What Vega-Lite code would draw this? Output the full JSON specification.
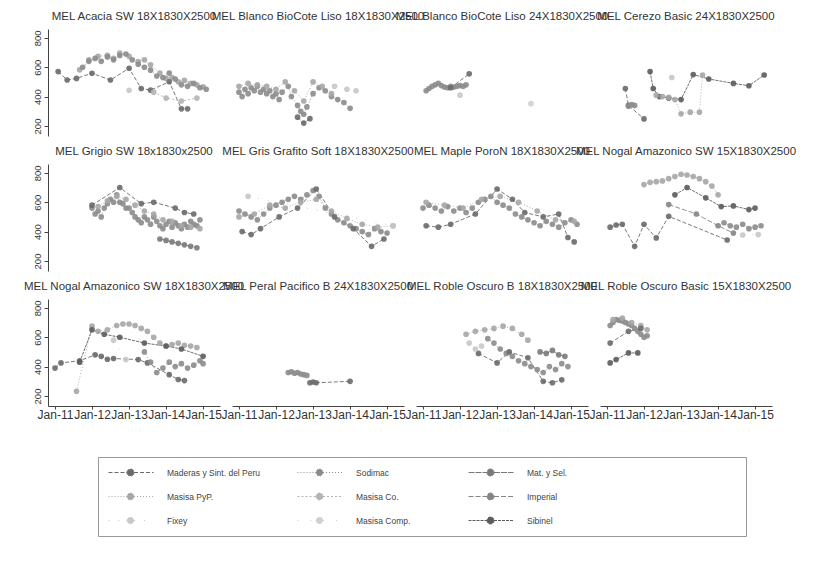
{
"$schema": "https://vega.github.io/schema/vega-lite/v6.json",
"padding": {"left": 23, "top": 10, "right": 5, "bottom": 5},
"background": "white",
"bounds": "flush",
"config": {"view": {"stroke": null}, "font": "Liberation Sans", "axis": {"grid": false, "domainColor": "#444", "tickColor": "#444", "labelColor": "#333", "labelFont": "Liberation Sans"}},
"data": {"values": [
{"p":1,"s":"Masisa PyP.","d":"2011-09","v":582},{"p":1,"s":"Masisa PyP.","d":"2011-12","v":651},{"p":1,"s":"Masisa PyP.","d":"2012-03","v":674},{"p":1,"s":"Masisa PyP.","d":"2012-06","v":681},{"p":1,"s":"Masisa PyP.","d":"2012-08","v":660},{"p":1,"s":"Masisa PyP.","d":"2012-10","v":697},{"p":1,"s":"Masisa PyP.","d":"2013-01","v":674},{"p":1,"s":"Masisa PyP.","d":"2013-04","v":639},{"p":1,"s":"Masisa PyP.","d":"2013-06","v":650},{"p":1,"s":"Masisa PyP.","d":"2013-08","v":616},{"p":1,"s":"Masisa PyP.","d":"2013-11","v":560},{"p":1,"s":"Masisa PyP.","d":"2014-01","v":524},{"p":1,"s":"Masisa PyP.","d":"2014-03","v":530},{"p":1,"s":"Masisa PyP.","d":"2014-05","v":501},{"p":1,"s":"Masisa PyP.","d":"2014-07","v":510},{"p":1,"s":"Masisa PyP.","d":"2014-09","v":490},{"p":1,"s":"Masisa PyP.","d":"2014-11","v":480},{"p":1,"s":"Masisa PyP.","d":"2015-01","v":467},
{"p":1,"s":"Maderas y Sint. del Peru","d":"2011-02","v":570},{"p":1,"s":"Maderas y Sint. del Peru","d":"2011-05","v":513},{"p":1,"s":"Maderas y Sint. del Peru","d":"2011-08","v":524},{"p":1,"s":"Maderas y Sint. del Peru","d":"2012-01","v":559},{"p":1,"s":"Maderas y Sint. del Peru","d":"2012-07","v":513},{"p":1,"s":"Maderas y Sint. del Peru","d":"2013-01","v":593},{"p":1,"s":"Maderas y Sint. del Peru","d":"2013-05","v":455},{"p":1,"s":"Maderas y Sint. del Peru","d":"2013-08","v":444},{"p":1,"s":"Maderas y Sint. del Peru","d":"2014-02","v":501},{"p":1,"s":"Maderas y Sint. del Peru","d":"2014-06","v":317},{"p":1,"s":"Maderas y Sint. del Peru","d":"2014-08","v":317},
{"p":1,"s":"Sodimac","d":"2011-10","v":600},{"p":1,"s":"Sodimac","d":"2011-12","v":640},{"p":1,"s":"Sodimac","d":"2012-02","v":660},{"p":1,"s":"Sodimac","d":"2012-04","v":640},{"p":1,"s":"Sodimac","d":"2012-06","v":670},{"p":1,"s":"Sodimac","d":"2012-08","v":650},{"p":1,"s":"Sodimac","d":"2012-10","v":680},{"p":1,"s":"Sodimac","d":"2012-12","v":690},{"p":1,"s":"Sodimac","d":"2013-02","v":650},{"p":1,"s":"Sodimac","d":"2013-04","v":620},{"p":1,"s":"Sodimac","d":"2013-06","v":600},{"p":1,"s":"Sodimac","d":"2013-08","v":580},{"p":1,"s":"Sodimac","d":"2013-10","v":540},{"p":1,"s":"Sodimac","d":"2013-12","v":530},{"p":1,"s":"Sodimac","d":"2014-02","v":560},{"p":1,"s":"Sodimac","d":"2014-04","v":520},{"p":1,"s":"Sodimac","d":"2014-06","v":480},{"p":1,"s":"Sodimac","d":"2014-08","v":470},{"p":1,"s":"Sodimac","d":"2014-10","v":490},{"p":1,"s":"Sodimac","d":"2014-12","v":460},{"p":1,"s":"Sodimac","d":"2015-02","v":450},
{"p":1,"s":"Masisa Co.","d":"2013-09","v":430},{"p":1,"s":"Masisa Co.","d":"2014-01","v":390},{"p":1,"s":"Masisa Co.","d":"2014-06","v":370},{"p":1,"s":"Masisa Co.","d":"2014-11","v":390},
{"p":1,"s":"Fixey","d":"2013-01","v":443},
{"p":2,"s":"Sodimac","d":"2011-01","v":430},{"p":2,"s":"Sodimac","d":"2011-02","v":400},{"p":2,"s":"Sodimac","d":"2011-03","v":450},{"p":2,"s":"Sodimac","d":"2011-04","v":420},{"p":2,"s":"Sodimac","d":"2011-05","v":460},{"p":2,"s":"Sodimac","d":"2011-06","v":440},{"p":2,"s":"Sodimac","d":"2011-07","v":470},{"p":2,"s":"Sodimac","d":"2011-08","v":430},{"p":2,"s":"Sodimac","d":"2011-09","v":450},{"p":2,"s":"Sodimac","d":"2011-10","v":420},{"p":2,"s":"Sodimac","d":"2011-11","v":440},{"p":2,"s":"Sodimac","d":"2011-12","v":400},{"p":2,"s":"Sodimac","d":"2012-01","v":420},{"p":2,"s":"Sodimac","d":"2012-02","v":380},{"p":2,"s":"Sodimac","d":"2012-03","v":430},{"p":2,"s":"Sodimac","d":"2012-05","v":470},{"p":2,"s":"Sodimac","d":"2012-06","v":400},{"p":2,"s":"Sodimac","d":"2012-08","v":340},{"p":2,"s":"Sodimac","d":"2012-09","v":300},{"p":2,"s":"Sodimac","d":"2012-10","v":280},{"p":2,"s":"Sodimac","d":"2012-11","v":330},{"p":2,"s":"Sodimac","d":"2013-01","v":420},{"p":2,"s":"Sodimac","d":"2013-03","v":460},{"p":2,"s":"Sodimac","d":"2013-05","v":440},{"p":2,"s":"Sodimac","d":"2013-07","v":400},{"p":2,"s":"Sodimac","d":"2013-09","v":380},{"p":2,"s":"Sodimac","d":"2013-11","v":360},{"p":2,"s":"Sodimac","d":"2014-01","v":320},
{"p":2,"s":"Masisa PyP.","d":"2011-01","v":470},{"p":2,"s":"Masisa PyP.","d":"2011-04","v":490},{"p":2,"s":"Masisa PyP.","d":"2011-07","v":480},{"p":2,"s":"Masisa PyP.","d":"2011-10","v":470},{"p":2,"s":"Masisa PyP.","d":"2012-01","v":450},{"p":2,"s":"Masisa PyP.","d":"2012-04","v":500},{"p":2,"s":"Masisa PyP.","d":"2012-07","v":440},{"p":2,"s":"Masisa PyP.","d":"2012-10","v":370},{"p":2,"s":"Masisa PyP.","d":"2013-01","v":500},{"p":2,"s":"Masisa PyP.","d":"2013-04","v":470},{"p":2,"s":"Masisa PyP.","d":"2013-07","v":420},
{"p":2,"s":"Maderas y Sint. del Peru","d":"2012-08","v":260},{"p":2,"s":"Maderas y Sint. del Peru","d":"2012-10","v":220},{"p":2,"s":"Maderas y Sint. del Peru","d":"2012-12","v":250},
{"p":2,"s":"Fixey","d":"2013-08","v":470},{"p":2,"s":"Fixey","d":"2013-12","v":450},{"p":2,"s":"Fixey","d":"2014-03","v":440},
{"p":3,"s":"Sodimac","d":"2011-02","v":440},{"p":3,"s":"Sodimac","d":"2011-03","v":455},{"p":3,"s":"Sodimac","d":"2011-04","v":470},{"p":3,"s":"Sodimac","d":"2011-05","v":480},{"p":3,"s":"Sodimac","d":"2011-06","v":490},{"p":3,"s":"Sodimac","d":"2011-07","v":475},{"p":3,"s":"Sodimac","d":"2011-08","v":465},{"p":3,"s":"Sodimac","d":"2011-09","v":460},{"p":3,"s":"Sodimac","d":"2011-10","v":470},{"p":3,"s":"Sodimac","d":"2011-11","v":465},{"p":3,"s":"Sodimac","d":"2011-12","v":470},{"p":3,"s":"Sodimac","d":"2012-01","v":475},{"p":3,"s":"Sodimac","d":"2012-02","v":470},{"p":3,"s":"Sodimac","d":"2012-03","v":480},
{"p":3,"s":"Maderas y Sint. del Peru","d":"2011-10","v":460},{"p":3,"s":"Maderas y Sint. del Peru","d":"2012-04","v":555},
{"p":3,"s":"Fixey","d":"2012-01","v":410},{"p":3,"s":"Masisa Comp.","d":"2013-12","v":352},
{"p":4,"s":"Sibinel","d":"2012-03","v":570},{"p":4,"s":"Sibinel","d":"2012-04","v":455},{"p":4,"s":"Sibinel","d":"2012-06","v":400},{"p":4,"s":"Sibinel","d":"2012-09","v":390},{"p":4,"s":"Sibinel","d":"2013-01","v":380},{"p":4,"s":"Sibinel","d":"2013-05","v":550},{"p":4,"s":"Sibinel","d":"2013-10","v":520},{"p":4,"s":"Sibinel","d":"2014-06","v":490},{"p":4,"s":"Sibinel","d":"2014-11","v":474},{"p":4,"s":"Sibinel","d":"2015-04","v":547},
{"p":4,"s":"Maderas y Sint. del Peru","d":"2011-07","v":455},{"p":4,"s":"Maderas y Sint. del Peru","d":"2011-08","v":340},{"p":4,"s":"Maderas y Sint. del Peru","d":"2012-01","v":248},
{"p":4,"s":"Sodimac","d":"2011-08","v":335},{"p":4,"s":"Sodimac","d":"2011-09","v":345},{"p":4,"s":"Sodimac","d":"2011-10","v":340},
{"p":4,"s":"Masisa PyP.","d":"2012-05","v":410},{"p":4,"s":"Masisa PyP.","d":"2012-07","v":400},{"p":4,"s":"Masisa PyP.","d":"2012-09","v":395},{"p":4,"s":"Masisa PyP.","d":"2012-11","v":380},{"p":4,"s":"Masisa PyP.","d":"2013-01","v":283},{"p":4,"s":"Masisa PyP.","d":"2013-04","v":294},{"p":4,"s":"Masisa PyP.","d":"2013-07","v":294},{"p":4,"s":"Masisa PyP.","d":"2013-08","v":547},
{"p":4,"s":"Fixey","d":"2012-10","v":530},
{"p":5,"s":"Sodimac","d":"2012-01","v":560},{"p":5,"s":"Sodimac","d":"2012-02","v":520},{"p":5,"s":"Sodimac","d":"2012-03","v":540},{"p":5,"s":"Sodimac","d":"2012-04","v":500},{"p":5,"s":"Sodimac","d":"2012-05","v":560},{"p":5,"s":"Sodimac","d":"2012-06","v":590},{"p":5,"s":"Sodimac","d":"2012-07","v":620},{"p":5,"s":"Sodimac","d":"2012-08","v":600},{"p":5,"s":"Sodimac","d":"2012-09","v":650},{"p":5,"s":"Sodimac","d":"2012-10","v":600},{"p":5,"s":"Sodimac","d":"2012-11","v":590},{"p":5,"s":"Sodimac","d":"2012-12","v":560},{"p":5,"s":"Sodimac","d":"2013-01","v":560},{"p":5,"s":"Sodimac","d":"2013-02","v":530},{"p":5,"s":"Sodimac","d":"2013-03","v":500},{"p":5,"s":"Sodimac","d":"2013-04","v":480},{"p":5,"s":"Sodimac","d":"2013-05","v":460},{"p":5,"s":"Sodimac","d":"2013-06","v":500},{"p":5,"s":"Sodimac","d":"2013-07","v":480},{"p":5,"s":"Sodimac","d":"2013-08","v":450},{"p":5,"s":"Sodimac","d":"2013-09","v":500},{"p":5,"s":"Sodimac","d":"2013-10","v":470},{"p":5,"s":"Sodimac","d":"2013-11","v":440},{"p":5,"s":"Sodimac","d":"2013-12","v":420},{"p":5,"s":"Sodimac","d":"2014-01","v":450},{"p":5,"s":"Sodimac","d":"2014-02","v":470},{"p":5,"s":"Sodimac","d":"2014-03","v":430},{"p":5,"s":"Sodimac","d":"2014-04","v":460},{"p":5,"s":"Sodimac","d":"2014-05","v":440},{"p":5,"s":"Sodimac","d":"2014-06","v":420},{"p":5,"s":"Sodimac","d":"2014-07","v":450},{"p":5,"s":"Sodimac","d":"2014-08","v":430},{"p":5,"s":"Sodimac","d":"2014-09","v":470},{"p":5,"s":"Sodimac","d":"2014-10","v":450},{"p":5,"s":"Sodimac","d":"2014-11","v":440},{"p":5,"s":"Sodimac","d":"2014-12","v":480},
{"p":5,"s":"Masisa PyP.","d":"2012-03","v":570},{"p":5,"s":"Masisa PyP.","d":"2012-06","v":610},{"p":5,"s":"Masisa PyP.","d":"2012-09","v":640},{"p":5,"s":"Masisa PyP.","d":"2012-12","v":620},{"p":5,"s":"Masisa PyP.","d":"2013-03","v":580},{"p":5,"s":"Masisa PyP.","d":"2013-06","v":540},{"p":5,"s":"Masisa PyP.","d":"2013-09","v":520},{"p":5,"s":"Masisa PyP.","d":"2013-12","v":480},{"p":5,"s":"Masisa PyP.","d":"2014-03","v":470},{"p":5,"s":"Masisa PyP.","d":"2014-06","v":440},{"p":5,"s":"Masisa PyP.","d":"2014-09","v":430},{"p":5,"s":"Masisa PyP.","d":"2014-12","v":420},
{"p":5,"s":"Maderas y Sint. del Peru","d":"2012-01","v":580},{"p":5,"s":"Maderas y Sint. del Peru","d":"2012-10","v":700},{"p":5,"s":"Maderas y Sint. del Peru","d":"2013-05","v":590},{"p":5,"s":"Maderas y Sint. del Peru","d":"2013-09","v":600},{"p":5,"s":"Maderas y Sint. del Peru","d":"2014-04","v":560},{"p":5,"s":"Maderas y Sint. del Peru","d":"2014-07","v":530},{"p":5,"s":"Maderas y Sint. del Peru","d":"2014-10","v":520},
{"p":5,"s":"Mat. y Sel.","d":"2013-11","v":350},{"p":5,"s":"Mat. y Sel.","d":"2014-01","v":340},{"p":5,"s":"Mat. y Sel.","d":"2014-03","v":330},{"p":5,"s":"Mat. y Sel.","d":"2014-05","v":320},{"p":5,"s":"Mat. y Sel.","d":"2014-07","v":310},{"p":5,"s":"Mat. y Sel.","d":"2014-09","v":300},{"p":5,"s":"Mat. y Sel.","d":"2014-11","v":290},
{"p":6,"s":"Sodimac","d":"2011-01","v":540},{"p":6,"s":"Sodimac","d":"2011-03","v":520},{"p":6,"s":"Sodimac","d":"2011-05","v":500},{"p":6,"s":"Sodimac","d":"2011-07","v":480},{"p":6,"s":"Sodimac","d":"2011-09","v":520},{"p":6,"s":"Sodimac","d":"2011-11","v":560},{"p":6,"s":"Sodimac","d":"2012-01","v":580},{"p":6,"s":"Sodimac","d":"2012-03","v":600},{"p":6,"s":"Sodimac","d":"2012-05","v":620},{"p":6,"s":"Sodimac","d":"2012-07","v":640},{"p":6,"s":"Sodimac","d":"2012-09","v":620},{"p":6,"s":"Sodimac","d":"2012-11","v":650},{"p":6,"s":"Sodimac","d":"2013-01","v":680},{"p":6,"s":"Sodimac","d":"2013-03","v":640},{"p":6,"s":"Sodimac","d":"2013-05","v":560},{"p":6,"s":"Sodimac","d":"2013-07","v":520},{"p":6,"s":"Sodimac","d":"2013-09","v":480},{"p":6,"s":"Sodimac","d":"2013-11","v":460},{"p":6,"s":"Sodimac","d":"2014-01","v":440},{"p":6,"s":"Sodimac","d":"2014-03","v":420},{"p":6,"s":"Sodimac","d":"2014-05","v":400},{"p":6,"s":"Sodimac","d":"2014-07","v":380},{"p":6,"s":"Sodimac","d":"2014-09","v":420},{"p":6,"s":"Sodimac","d":"2014-11","v":400},{"p":6,"s":"Sodimac","d":"2015-01","v":390},
{"p":6,"s":"Masisa PyP.","d":"2011-01","v":500},{"p":6,"s":"Masisa PyP.","d":"2011-06","v":520},{"p":6,"s":"Masisa PyP.","d":"2011-11","v":580},{"p":6,"s":"Masisa PyP.","d":"2012-04","v":560},{"p":6,"s":"Masisa PyP.","d":"2012-09","v":600},{"p":6,"s":"Masisa PyP.","d":"2013-02","v":620},{"p":6,"s":"Masisa PyP.","d":"2013-07","v":540},{"p":6,"s":"Masisa PyP.","d":"2013-12","v":490},{"p":6,"s":"Masisa PyP.","d":"2014-05","v":450},{"p":6,"s":"Masisa PyP.","d":"2014-10","v":430},{"p":6,"s":"Masisa PyP.","d":"2015-03","v":440},
{"p":6,"s":"Maderas y Sint. del Peru","d":"2011-02","v":400},{"p":6,"s":"Maderas y Sint. del Peru","d":"2011-05","v":380},{"p":6,"s":"Maderas y Sint. del Peru","d":"2011-08","v":420},{"p":6,"s":"Maderas y Sint. del Peru","d":"2012-02","v":500},{"p":6,"s":"Maderas y Sint. del Peru","d":"2012-08","v":560},{"p":6,"s":"Maderas y Sint. del Peru","d":"2013-02","v":690},{"p":6,"s":"Maderas y Sint. del Peru","d":"2013-08","v":500},{"p":6,"s":"Maderas y Sint. del Peru","d":"2014-02","v":420},{"p":6,"s":"Maderas y Sint. del Peru","d":"2014-08","v":300},{"p":6,"s":"Maderas y Sint. del Peru","d":"2014-12","v":350},
{"p":6,"s":"Fixey","d":"2011-04","v":640},{"p":6,"s":"Fixey","d":"2015-03","v":440},
{"p":7,"s":"Sodimac","d":"2011-01","v":560},{"p":7,"s":"Sodimac","d":"2011-03","v":580},{"p":7,"s":"Sodimac","d":"2011-05","v":560},{"p":7,"s":"Sodimac","d":"2011-07","v":540},{"p":7,"s":"Sodimac","d":"2011-09","v":570},{"p":7,"s":"Sodimac","d":"2011-11","v":540},{"p":7,"s":"Sodimac","d":"2012-01","v":560},{"p":7,"s":"Sodimac","d":"2012-03","v":530},{"p":7,"s":"Sodimac","d":"2012-05","v":560},{"p":7,"s":"Sodimac","d":"2012-07","v":600},{"p":7,"s":"Sodimac","d":"2012-09","v":620},{"p":7,"s":"Sodimac","d":"2012-11","v":640},{"p":7,"s":"Sodimac","d":"2013-01","v":600},{"p":7,"s":"Sodimac","d":"2013-03","v":580},{"p":7,"s":"Sodimac","d":"2013-05","v":560},{"p":7,"s":"Sodimac","d":"2013-07","v":520},{"p":7,"s":"Sodimac","d":"2013-09","v":500},{"p":7,"s":"Sodimac","d":"2013-11","v":480},{"p":7,"s":"Sodimac","d":"2014-01","v":460},{"p":7,"s":"Sodimac","d":"2014-03","v":440},{"p":7,"s":"Sodimac","d":"2014-05","v":470},{"p":7,"s":"Sodimac","d":"2014-07","v":450},{"p":7,"s":"Sodimac","d":"2014-09","v":430},{"p":7,"s":"Sodimac","d":"2014-11","v":460},{"p":7,"s":"Sodimac","d":"2015-01","v":480},{"p":7,"s":"Sodimac","d":"2015-03","v":450},
{"p":7,"s":"Masisa PyP.","d":"2011-02","v":600},{"p":7,"s":"Masisa PyP.","d":"2011-08","v":580},{"p":7,"s":"Masisa PyP.","d":"2012-02","v":560},{"p":7,"s":"Masisa PyP.","d":"2012-08","v":620},{"p":7,"s":"Masisa PyP.","d":"2013-02","v":640},{"p":7,"s":"Masisa PyP.","d":"2013-08","v":600},{"p":7,"s":"Masisa PyP.","d":"2014-02","v":540},{"p":7,"s":"Masisa PyP.","d":"2014-08","v":480},{"p":7,"s":"Masisa PyP.","d":"2015-02","v":470},
{"p":7,"s":"Maderas y Sint. del Peru","d":"2011-02","v":440},{"p":7,"s":"Maderas y Sint. del Peru","d":"2011-06","v":430},{"p":7,"s":"Maderas y Sint. del Peru","d":"2011-10","v":450},{"p":7,"s":"Maderas y Sint. del Peru","d":"2012-06","v":520},{"p":7,"s":"Maderas y Sint. del Peru","d":"2013-01","v":690},{"p":7,"s":"Maderas y Sint. del Peru","d":"2013-06","v":620},{"p":7,"s":"Maderas y Sint. del Peru","d":"2013-10","v":530},{"p":7,"s":"Maderas y Sint. del Peru","d":"2014-04","v":500},{"p":7,"s":"Maderas y Sint. del Peru","d":"2014-09","v":520},{"p":7,"s":"Maderas y Sint. del Peru","d":"2014-12","v":360},{"p":7,"s":"Maderas y Sint. del Peru","d":"2015-02","v":330},
{"p":8,"s":"Masisa PyP.","d":"2012-01","v":720},{"p":8,"s":"Masisa PyP.","d":"2012-03","v":735},{"p":8,"s":"Masisa PyP.","d":"2012-05","v":740},{"p":8,"s":"Masisa PyP.","d":"2012-07","v":745},{"p":8,"s":"Masisa PyP.","d":"2012-09","v":760},{"p":8,"s":"Masisa PyP.","d":"2012-11","v":775},{"p":8,"s":"Masisa PyP.","d":"2013-01","v":790},{"p":8,"s":"Masisa PyP.","d":"2013-03","v":785},{"p":8,"s":"Masisa PyP.","d":"2013-05","v":775},{"p":8,"s":"Masisa PyP.","d":"2013-07","v":760},{"p":8,"s":"Masisa PyP.","d":"2013-09","v":740},{"p":8,"s":"Masisa PyP.","d":"2013-11","v":710},{"p":8,"s":"Masisa PyP.","d":"2014-01","v":650},
{"p":8,"s":"Sibinel","d":"2012-11","v":650},{"p":8,"s":"Sibinel","d":"2013-03","v":700},{"p":8,"s":"Sibinel","d":"2013-09","v":630},{"p":8,"s":"Sibinel","d":"2014-02","v":570},{"p":8,"s":"Sibinel","d":"2014-06","v":575},{"p":8,"s":"Sibinel","d":"2014-11","v":550},{"p":8,"s":"Sibinel","d":"2015-01","v":560},
{"p":8,"s":"Sodimac","d":"2014-03","v":460},{"p":8,"s":"Sodimac","d":"2014-05","v":440},{"p":8,"s":"Sodimac","d":"2014-07","v":430},{"p":8,"s":"Sodimac","d":"2014-09","v":450},{"p":8,"s":"Sodimac","d":"2014-11","v":420},{"p":8,"s":"Sodimac","d":"2015-01","v":430},{"p":8,"s":"Sodimac","d":"2015-03","v":440},
{"p":8,"s":"Maderas y Sint. del Peru","d":"2011-02","v":430},{"p":8,"s":"Maderas y Sint. del Peru","d":"2011-04","v":445},{"p":8,"s":"Maderas y Sint. del Peru","d":"2011-06","v":450},{"p":8,"s":"Maderas y Sint. del Peru","d":"2011-10","v":300},{"p":8,"s":"Maderas y Sint. del Peru","d":"2012-01","v":450},{"p":8,"s":"Maderas y Sint. del Peru","d":"2012-05","v":357},{"p":8,"s":"Maderas y Sint. del Peru","d":"2012-09","v":504},{"p":8,"s":"Maderas y Sint. del Peru","d":"2014-04","v":343},
{"p":8,"s":"Imperial","d":"2012-09","v":584},{"p":8,"s":"Imperial","d":"2013-06","v":520},{"p":8,"s":"Imperial","d":"2014-01","v":440},{"p":8,"s":"Imperial","d":"2014-06","v":390},
{"p":8,"s":"Fixey","d":"2014-09","v":377},{"p":8,"s":"Fixey","d":"2015-02","v":380},
{"p":9,"s":"Maderas y Sint. del Peru","d":"2011-01","v":390},{"p":9,"s":"Maderas y Sint. del Peru","d":"2011-03","v":425},{"p":9,"s":"Maderas y Sint. del Peru","d":"2011-09","v":440},{"p":9,"s":"Maderas y Sint. del Peru","d":"2012-02","v":480},{"p":9,"s":"Maderas y Sint. del Peru","d":"2012-04","v":470},{"p":9,"s":"Maderas y Sint. del Peru","d":"2012-06","v":450},{"p":9,"s":"Maderas y Sint. del Peru","d":"2012-08","v":455},{"p":9,"s":"Maderas y Sint. del Peru","d":"2013-04","v":448},{"p":9,"s":"Maderas y Sint. del Peru","d":"2013-07","v":425},{"p":9,"s":"Maderas y Sint. del Peru","d":"2014-02","v":345},{"p":9,"s":"Maderas y Sint. del Peru","d":"2014-05","v":312},{"p":9,"s":"Maderas y Sint. del Peru","d":"2014-07","v":305},
{"p":9,"s":"Masisa PyP.","d":"2011-08","v":232},{"p":9,"s":"Masisa PyP.","d":"2012-01","v":675},{"p":9,"s":"Masisa PyP.","d":"2012-03","v":640},{"p":9,"s":"Masisa PyP.","d":"2012-06","v":650},{"p":9,"s":"Masisa PyP.","d":"2012-09","v":680},{"p":9,"s":"Masisa PyP.","d":"2012-11","v":690},{"p":9,"s":"Masisa PyP.","d":"2013-01","v":690},{"p":9,"s":"Masisa PyP.","d":"2013-03","v":680},{"p":9,"s":"Masisa PyP.","d":"2013-05","v":660},{"p":9,"s":"Masisa PyP.","d":"2013-07","v":640},{"p":9,"s":"Masisa PyP.","d":"2013-09","v":600},{"p":9,"s":"Masisa PyP.","d":"2013-11","v":560},{"p":9,"s":"Masisa PyP.","d":"2014-01","v":540},{"p":9,"s":"Masisa PyP.","d":"2014-03","v":550},{"p":9,"s":"Masisa PyP.","d":"2014-05","v":560},{"p":9,"s":"Masisa PyP.","d":"2014-07","v":545},{"p":9,"s":"Masisa PyP.","d":"2014-09","v":540},{"p":9,"s":"Masisa PyP.","d":"2014-11","v":530},
{"p":9,"s":"Sibinel","d":"2011-09","v":430},{"p":9,"s":"Sibinel","d":"2012-01","v":650},{"p":9,"s":"Sibinel","d":"2012-05","v":620},{"p":9,"s":"Sibinel","d":"2012-10","v":600},{"p":9,"s":"Sibinel","d":"2013-06","v":560},{"p":9,"s":"Sibinel","d":"2014-01","v":540},{"p":9,"s":"Sibinel","d":"2014-06","v":520},{"p":9,"s":"Sibinel","d":"2015-01","v":470},
{"p":9,"s":"Sodimac","d":"2013-06","v":500},{"p":9,"s":"Sodimac","d":"2013-08","v":430},{"p":9,"s":"Sodimac","d":"2013-10","v":360},{"p":9,"s":"Sodimac","d":"2013-12","v":390},{"p":9,"s":"Sodimac","d":"2014-02","v":430},{"p":9,"s":"Sodimac","d":"2014-04","v":400},{"p":9,"s":"Sodimac","d":"2014-06","v":420},{"p":9,"s":"Sodimac","d":"2014-08","v":390},{"p":9,"s":"Sodimac","d":"2014-10","v":410},{"p":9,"s":"Sodimac","d":"2014-12","v":440},{"p":9,"s":"Sodimac","d":"2015-01","v":420},
{"p":9,"s":"Fixey","d":"2012-08","v":580},{"p":9,"s":"Fixey","d":"2012-12","v":448},
{"p":10,"s":"Sodimac","d":"2012-05","v":360},{"p":10,"s":"Sodimac","d":"2012-06","v":365},{"p":10,"s":"Sodimac","d":"2012-07","v":355},{"p":10,"s":"Sodimac","d":"2012-08","v":360},{"p":10,"s":"Sodimac","d":"2012-09","v":350},{"p":10,"s":"Sodimac","d":"2012-10","v":345},{"p":10,"s":"Sodimac","d":"2012-11","v":340},
{"p":10,"s":"Maderas y Sint. del Peru","d":"2012-12","v":290},{"p":10,"s":"Maderas y Sint. del Peru","d":"2013-01","v":295},{"p":10,"s":"Maderas y Sint. del Peru","d":"2013-02","v":290},{"p":10,"s":"Maderas y Sint. del Peru","d":"2014-01","v":300},
{"p":11,"s":"Masisa PyP.","d":"2012-03","v":620},{"p":11,"s":"Masisa PyP.","d":"2012-06","v":640},{"p":11,"s":"Masisa PyP.","d":"2012-09","v":650},{"p":11,"s":"Masisa PyP.","d":"2012-12","v":660},{"p":11,"s":"Masisa PyP.","d":"2013-03","v":675},{"p":11,"s":"Masisa PyP.","d":"2013-06","v":660},{"p":11,"s":"Masisa PyP.","d":"2013-09","v":620},{"p":11,"s":"Masisa PyP.","d":"2013-11","v":580},
{"p":11,"s":"Sodimac","d":"2012-10","v":590},{"p":11,"s":"Sodimac","d":"2012-12","v":560},{"p":11,"s":"Sodimac","d":"2013-02","v":520},{"p":11,"s":"Sodimac","d":"2013-04","v":490},{"p":11,"s":"Sodimac","d":"2013-06","v":470},{"p":11,"s":"Sodimac","d":"2013-08","v":440},{"p":11,"s":"Sodimac","d":"2013-10","v":420},{"p":11,"s":"Sodimac","d":"2013-12","v":400},{"p":11,"s":"Sodimac","d":"2014-02","v":380},{"p":11,"s":"Sodimac","d":"2014-04","v":360},{"p":11,"s":"Sodimac","d":"2014-06","v":400},{"p":11,"s":"Sodimac","d":"2014-08","v":380},{"p":11,"s":"Sodimac","d":"2014-10","v":420},{"p":11,"s":"Sodimac","d":"2014-12","v":400},
{"p":11,"s":"Maderas y Sint. del Peru","d":"2012-07","v":490},{"p":11,"s":"Maderas y Sint. del Peru","d":"2013-01","v":425},{"p":11,"s":"Maderas y Sint. del Peru","d":"2013-05","v":500},{"p":11,"s":"Maderas y Sint. del Peru","d":"2013-11","v":460},{"p":11,"s":"Maderas y Sint. del Peru","d":"2014-04","v":300},{"p":11,"s":"Maderas y Sint. del Peru","d":"2014-07","v":290},{"p":11,"s":"Maderas y Sint. del Peru","d":"2014-10","v":310},
{"p":11,"s":"Mat. y Sel.","d":"2014-03","v":500},{"p":11,"s":"Mat. y Sel.","d":"2014-05","v":490},{"p":11,"s":"Mat. y Sel.","d":"2014-07","v":510},{"p":11,"s":"Mat. y Sel.","d":"2014-09","v":480},{"p":11,"s":"Mat. y Sel.","d":"2014-11","v":470},
{"p":11,"s":"Fixey","d":"2012-04","v":560},{"p":11,"s":"Fixey","d":"2012-06","v":520},{"p":11,"s":"Fixey","d":"2012-08","v":540},
{"p":12,"s":"Sodimac","d":"2011-02","v":680},{"p":12,"s":"Sodimac","d":"2011-03","v":700},{"p":12,"s":"Sodimac","d":"2011-04","v":720},{"p":12,"s":"Sodimac","d":"2011-05","v":715},{"p":12,"s":"Sodimac","d":"2011-06","v":710},{"p":12,"s":"Sodimac","d":"2011-07","v":700},{"p":12,"s":"Sodimac","d":"2011-08","v":690},{"p":12,"s":"Sodimac","d":"2011-09","v":680},{"p":12,"s":"Sodimac","d":"2011-10","v":660},{"p":12,"s":"Sodimac","d":"2011-11","v":640},{"p":12,"s":"Sodimac","d":"2011-12","v":620},{"p":12,"s":"Sodimac","d":"2012-01","v":600},{"p":12,"s":"Sodimac","d":"2012-02","v":610},
{"p":12,"s":"Masisa PyP.","d":"2011-03","v":720},{"p":12,"s":"Masisa PyP.","d":"2011-06","v":730},{"p":12,"s":"Masisa PyP.","d":"2011-09","v":700},{"p":12,"s":"Masisa PyP.","d":"2011-12","v":680},{"p":12,"s":"Masisa PyP.","d":"2012-02","v":650},
{"p":12,"s":"Maderas y Sint. del Peru","d":"2011-02","v":560},{"p":12,"s":"Maderas y Sint. del Peru","d":"2011-08","v":640},{"p":12,"s":"Maderas y Sint. del Peru","d":"2011-12","v":660},
{"p":12,"s":"Sibinel","d":"2011-02","v":425},{"p":12,"s":"Sibinel","d":"2011-04","v":448},{"p":12,"s":"Sibinel","d":"2011-08","v":493},{"p":12,"s":"Sibinel","d":"2011-11","v":493}
]},
"facet": {"field": "p", "type": "ordinal", "title": null,
  "header": {"labelExpr": "['','MEL Acacia SW 18X1830X2500','MEL Blanco BioCote Liso 18X1830X2500','MEL Blanco BioCote Liso 24X1830X2500','MEL Cerezo Basic 24X1830X2500','MEL Grigio SW 18x1830x2500','MEL Gris Grafito Soft 18X1830X2500','MEL Maple PoroN 18X1830X2500','MEL Nogal Amazonico SW 15X1830X2500','MEL Nogal Amazonico SW 18X1830X2500','MEL Peral Pacifico B 24X1830X2500','MEL Roble Oscuro B 18X1830X2500','MEL Roble Oscuro Basic 15X1830X2500'][datum.value]", "labelFontSize": 11.5, "labelColor": "#333", "labelPadding": 7, "labelFont": "Liberation Sans", "labelLimit": 0}},
"columns": 4,
"spacing": {"column": 12, "row": 28},
"spec": {
  "width": 172, "height": 107,
  "encoding": {
    "x": {"field": "d", "type": "temporal", "title": null,
      "scale": {"type": "utc", "domain": [{"year": 2010, "month": 10, "date": 24, "utc": true}, {"year": 2015, "month": 6, "date": 17, "utc": true}]},
      "axis": {"format": "%b-%y", "values": [{"year": 2011, "month": 1, "date": 1, "utc": true}, {"year": 2012, "month": 1, "date": 1, "utc": true}, {"year": 2013, "month": 1, "date": 1, "utc": true}, {"year": 2014, "month": 1, "date": 1, "utc": true}, {"year": 2015, "month": 1, "date": 1, "utc": true}], "labelFontSize": 12, "tickSize": 3, "labelPadding": 0, "labelFlush": false, "labelOverlap": false}},
    "y": {"field": "v", "type": "quantitative", "title": null,
      "scale": {"domain": [132, 860], "nice": false, "zero": false},
      "axis": {"values": [200, 400, 600, 800], "labelAngle": -90, "labelAlign": "center", "labelBaseline": "bottom", "labelFontSize": 9.5, "tickSize": 4, "labelPadding": 2}},
    "color": {"field": "s", "type": "nominal", "title": null,
      "scale": {"domain": ["Maderas y Sint. del Peru", "Sodimac", "Mat. y Sel.", "Masisa PyP.", "Masisa Co.", "Imperial", "Fixey", "Masisa Comp.", "Sibinel"],
                "range": ["#6a6a6a", "#8c8c8c", "#7a7a7a", "#a6a6a6", "#b4b4b4", "#858585", "#c8c8c8", "#d0d0d0", "#5c5c5c"]},
      "legend": {"orient": "none", "legendX": 50, "legendY": 428, "direction": "horizontal", "columns": 3, "columnPadding": 34, "rowPadding": 13, "gridAlign": "each",
        "symbolType": "M-1,0L2.7,0M4.1,0L8,0M2.7,0A0.7,0.7 0 1,0 4.1,0A0.7,0.7 0 1,0 2.7,0", "symbolSize": 100, "symbolStrokeWidth": 1,
        "labelOffset": 48, "labelFontSize": 8.5, "labelColor": "#444", "labelLimit": 400,
        "labelExpr": "datum.label == 'Masisa Comp.' ? datum.label + '\u2800\u2800\u2800' : (datum.label == 'Mat. y Sel.' ? datum.label + '\u2800\u2800\u2800\u2800\u2800\u2800\u2800\u2800\u2800\u2800\u2800\u2800\u2800\u2800\u2800\u2800\u2800\u2800\u2800\u2800\u2800\u2800\u2800\u2800' : datum.label)",
        "strokeColor": "#999", "padding": 10,
        "encode": {"symbols": {"update": {"fill": {"scale": "color", "field": "value"}, "stroke": {"scale": "color", "field": "value"}}}}}},
    "strokeDash": {"field": "s", "type": "nominal", "title": null, "legend": null,
      "scale": {"domain": ["Maderas y Sint. del Peru", "Sodimac", "Mat. y Sel.", "Masisa PyP.", "Masisa Co.", "Imperial", "Fixey", "Masisa Comp.", "Sibinel"],
                "range": [[4, 2], [1, 2], [6, 1], [1, 2], [2, 2], [5, 2], [1, 9], [1, 12], [3, 1]]}}
  },
  "layer": [
    {"mark": {"type": "line", "strokeWidth": 0.9}},
    {"mark": {"type": "point", "filled": true, "size": 32, "opacity": 0.9}}
  ]
}
}
